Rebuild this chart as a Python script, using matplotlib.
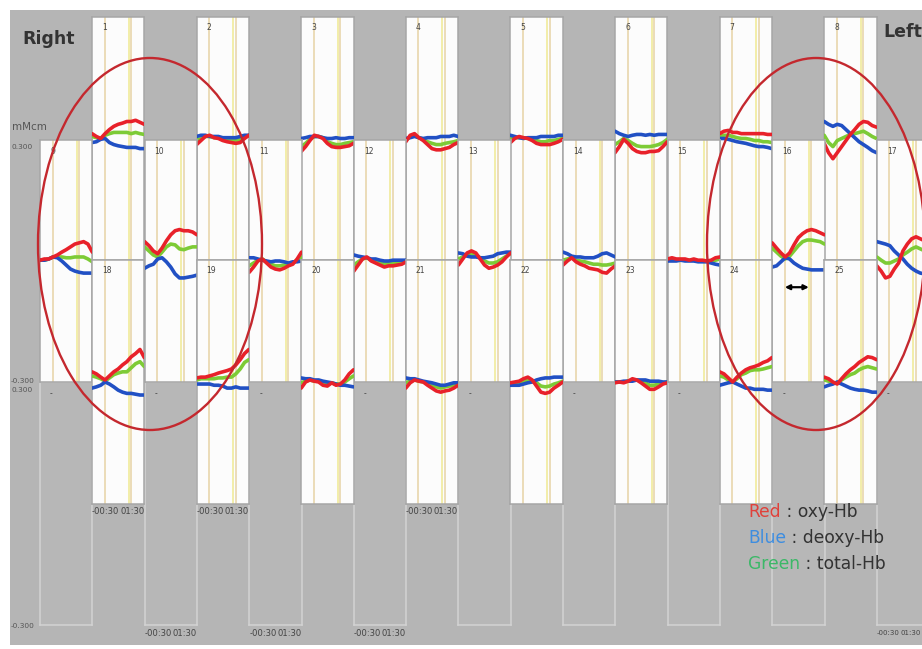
import matplotlib
matplotlib.use("Agg")
import matplotlib.pyplot as plt
from matplotlib.patches import Rectangle, Ellipse
import numpy as np

# ---------------- data: Hb change, in µM·cm (1e-3 mM·cm) ----------------
time_s = [-30, -20, -10, 0, 10, 20, 30, 40, 50, 60, 70, 80, 90]

ch1_oxy = [12, 5, 0, 12, 22, 30, 35, 38, 42, 42, 45, 40, 35]
ch1_deoxy = [-10, -8, -2, 0, -10, -15, -18, -20, -22, -22, -22, -25, -25]
ch1_total = [5, 2, 0, 8, 12, 15, 15, 15, 15, 12, 15, 12, 10]

ch2_oxy = [-15, -5, 5, 8, 2, 0, -5, -8, -10, -12, -10, 0, 8]
ch2_deoxy = [5, 8, 8, 5, 5, 5, 2, 2, 2, 2, 5, 8, 8]
ch2_total = [-5, 0, 5, 5, 2, 2, 0, -2, -2, -5, -2, 2, 8]

ch3_oxy = [-32, -20, -5, 8, 5, 0, -12, -20, -22, -22, -20, -18, -12]
ch3_deoxy = [0, 2, 5, 5, 5, 2, 0, 0, 2, 0, 0, 2, 2]
ch3_total = [-20, -12, -2, 5, 5, 2, -8, -12, -15, -15, -12, -10, -8]

ch4_oxy = [-8, 8, 12, 2, -5, -15, -25, -28, -28, -25, -22, -15, -10]
ch4_deoxy = [0, 2, 5, 2, 0, 2, 2, 2, 5, 5, 5, 8, 5]
ch4_total = [-5, 5, 8, 2, -2, -8, -12, -15, -15, -12, -10, -8, -5]

ch5_oxy = [-10, 0, 5, 2, 0, -5, -12, -15, -15, -15, -12, -8, -2]
ch5_deoxy = [8, 5, 2, 0, 2, 2, 2, 5, 5, 5, 5, 8, 8]
ch5_total = [0, 2, 2, 2, 0, -2, -5, -8, -8, -5, -5, -2, 0]

ch6_oxy = [-35, -20, -2, -12, -25, -32, -35, -35, -32, -32, -30, -20, -8]
ch6_deoxy = [18, 12, 8, 5, 8, 10, 10, 8, 10, 8, 10, 10, 10]
ch6_total = [-15, -8, 0, -5, -12, -18, -20, -20, -20, -18, -15, -10, -2]

ch7_oxy = [12, 18, 20, 15, 15, 12, 12, 12, 12, 12, 12, 10, 10]
ch7_deoxy = [0, 0, -2, -5, -8, -10, -12, -15, -18, -20, -20, -22, -25]
ch7_total = [8, 8, 8, 5, 2, 0, 0, -2, -5, -5, -8, -8, -10]

ch8_oxy = [-12, -35, -50, -35, -20, -5, 10, 22, 35, 42, 40, 32, 28]
ch8_deoxy = [42, 35, 30, 35, 32, 22, 12, 2, -8, -15, -22, -30, -35]
ch8_total = [8, -10, -20, -5, 0, 5, 10, 12, 15, 18, 12, 5, 0]

ch9_oxy = [2, 5, 5, 10, 15, 22, 28, 35, 42, 45, 48, 42, 22]
ch9_deoxy = [2, 2, 5, 10, 8, 0, -10, -20, -25, -28, -30, -30, -30]
ch9_total = [2, 2, 5, 10, 10, 10, 8, 8, 10, 10, 10, 5, -2]

ch10_oxy = [48, 38, 25, 18, 32, 50, 65, 75, 78, 75, 75, 72, 65]
ch10_deoxy = [-18, -12, -8, 5, 8, -2, -15, -32, -42, -42, -40, -38, -35]
ch10_total = [35, 25, 15, 10, 22, 35, 42, 40, 30, 28, 32, 35, 35]

ch11_oxy = [-28, -15, 0, 5, -5, -15, -20, -22, -18, -12, -8, 5, 22]
ch11_deoxy = [8, 8, 5, 2, 0, -2, 0, 0, -2, -5, -2, -2, 0]
ch11_total = [-12, -5, 2, 5, -2, -8, -12, -12, -10, -8, -5, 2, 10]

ch12_oxy = [-25, -10, 5, 10, 0, -5, -10, -15, -12, -12, -10, -8, -2]
ch12_deoxy = [15, 12, 10, 8, 5, 5, 2, 0, 0, 2, 2, 2, 2]
ch12_total = [-10, -2, 5, 8, 2, 0, -2, -8, -5, -5, -5, -2, 0]

ch13_oxy = [-10, 5, 20, 25, 20, 5, -10, -18, -15, -10, -2, 10, 20]
ch13_deoxy = [20, 18, 12, 10, 10, 8, 8, 10, 12, 18, 20, 22, 22]
ch13_total = [5, 10, 15, 18, 15, 8, 0, -5, -5, -2, 5, 12, 20]

ch14_oxy = [-10, 0, 8, -2, -8, -12, -18, -20, -22, -28, -30, -20, -12]
ch14_deoxy = [22, 18, 12, 10, 10, 8, 8, 8, 12, 18, 20, 15, 10]
ch14_total = [2, 5, 8, 2, 0, -2, -5, -8, -8, -10, -10, -8, -5]

ch15_oxy = [5, 8, 5, 5, 5, 2, 5, 2, 2, 0, 2, 8, 10]
ch15_deoxy = [0, 0, 0, 2, 0, 0, 0, -2, -2, -2, -5, -8, -10]
ch15_total = [2, 2, 2, 2, 2, 2, 2, 0, 0, 0, 0, 2, 5]

ch16_oxy = [45, 32, 20, 10, 20, 40, 58, 68, 75, 78, 75, 70, 65]
ch16_deoxy = [-15, -12, -2, 8, 5, -5, -12, -18, -20, -22, -22, -22, -22]
ch16_total = [32, 22, 12, 5, 12, 25, 38, 48, 52, 52, 50, 48, 42]

ch17_oxy = [-12, -25, -42, -38, -20, -5, 25, 42, 55, 60, 55, 50, 45]
ch17_deoxy = [48, 45, 42, 38, 25, 15, 5, -8, -18, -25, -30, -32, -35]
ch17_total = [10, 2, -5, -5, 0, 5, 15, 22, 30, 35, 30, 25, 20]

ch18_oxy = [25, 20, 12, 5, 15, 25, 32, 42, 50, 62, 70, 80, 60]
ch18_deoxy = [-15, -12, -8, 0, -5, -12, -20, -25, -28, -28, -30, -32, -32]
ch18_total = [15, 12, 8, 2, 10, 18, 22, 25, 25, 35, 45, 50, 38]

ch19_oxy = [10, 12, 12, 15, 18, 22, 25, 28, 32, 42, 55, 70, 80]
ch19_deoxy = [-5, -5, -5, -5, -8, -8, -10, -15, -15, -12, -15, -15, -15]
ch19_total = [5, 8, 8, 8, 8, 10, 10, 12, 12, 20, 32, 48, 55]

ch20_oxy = [-15, 0, 5, 2, 0, -8, -10, -2, -8, -5, 5, 20, 30]
ch20_deoxy = [10, 8, 8, 5, 5, 2, 0, -2, -5, -8, -8, -10, -12]
ch20_total = [-2, 2, 5, 2, 2, -2, -5, -2, -5, -5, 0, 8, 15]

ch21_oxy = [-15, -2, 5, 2, 0, -8, -15, -22, -25, -22, -20, -15, -8]
ch21_deoxy = [10, 8, 8, 5, 2, 0, -2, -5, -8, -8, -5, -2, -2]
ch21_total = [-2, 2, 5, 2, 0, -2, -8, -12, -15, -12, -10, -8, -5]

ch22_oxy = [-2, 0, 2, 8, 12, 5, -10, -25, -28, -25, -15, -8, 0]
ch22_deoxy = [-8, -8, -8, -5, -2, 0, 5, 8, 10, 10, 12, 12, 12]
ch22_total = [-5, -5, -2, 2, 5, 2, -2, -10, -12, -10, -5, -2, 2]

ch23_oxy = [-2, 0, -2, 2, 8, 5, -2, -10, -18, -18, -12, -5, -2]
ch23_deoxy = [0, 0, 2, 2, 2, 5, 5, 5, 2, 2, 2, 0, 0]
ch23_total = [0, 0, 0, 2, 5, 5, 2, -2, -8, -8, -5, -2, 0]

ch24_oxy = [25, 20, 10, 0, 12, 22, 30, 35, 38, 42, 48, 52, 60]
ch24_deoxy = [-8, -5, -2, 0, -5, -10, -15, -15, -18, -18, -18, -20, -20]
ch24_total = [15, 12, 5, 0, 8, 18, 22, 28, 30, 30, 32, 35, 38]

ch25_oxy = [12, 8, 0, -5, 8, 20, 30, 38, 48, 55, 62, 60, 55]
ch25_deoxy = [-12, -8, -5, 0, -5, -10, -15, -18, -20, -20, -22, -25, -25]
ch25_total = [5, 2, -2, -2, 5, 12, 18, 22, 30, 35, 38, 35, 32]

row_a_channels = [1, 2, 3, 4, 5, 6, 7, 8]
row_b_channels = [9, 10, 11, 12, 13, 14, 15, 16, 17]
row_c_channels = [18, 19, 20, 21, 22, 23, 24, 25]
y_range = (-0.3, 0.3)          # mM·cm
x_range = (-30, 90)            # s
marker_times = [-1, 54, 60]    # stimulus marks
marker_colors = ["#ead9b2", "#f1eca2", "#ead9b2"]
time_labels = ["-00:30", "01:30"]
xlabel_cols_mid = [0, 1, 3]
xlabel_cols_bottom = [1, 2, 3, 8]
y_labels = ["0.300", "-0.300", "0.300", "-0.300"]
unit_label = "mMcm"
legend_items = [("Red", "#e0413a", "oxy-Hb"), ("Blue", "#3d8de0", "deoxy-Hb"),
                ("Green", "#3cb868", "total-Hb")]

g = globals()
channels = {c: (g[f"ch{c}_oxy"], g[f"ch{c}_deoxy"], g[f"ch{c}_total"]) for c in range(1, 26)}

OXY_C, DEOXY_C, TOTAL_C = "#e8212a", "#2150c4", "#7dcb36"

# ---------------- layout (pixels) ----------------
W, H = 922, 649
fig = plt.figure(figsize=(W / 100, H / 100), dpi=100)
fig.patch.set_facecolor("white")


def fbox(x0, y0, x1, y1):
    return [x0 / W, 1 - y1 / H, (x1 - x0) / W, (y1 - y0) / H]


bg = fig.add_axes([0, 0, 1, 1], zorder=0)
bg.set_xlim(0, W)
bg.set_ylim(H, 0)
bg.axis("off")
bg.add_patch(Rectangle((10, 10), W - 10, 635, color="#b5b5b5", lw=0))

PW = 52.3
STEP = 104.6
COL_A0, COL_B0 = 92, 40
ROW_A = (17, 260)
ROW_B = (140, 382)
ROW_C = (260, 504)
ROW_G = (382, 625)
tarr = np.array(time_s)


def style_panel(ax, face, edge):
    ax.set_facecolor(face)
    ax.set_xlim(*x_range)
    ax.set_ylim(*y_range)
    ax.set_xticks([])
    ax.set_yticks([])
    for s in ax.spines.values():
        s.set_color(edge)
        s.set_linewidth(1.1)


def data_panel(x0, rows, ch):
    ax = fig.add_axes(fbox(x0, rows[0], x0 + PW, rows[1]), zorder=2)
    style_panel(ax, "#fcfcfc", "#a6a6a6")
    for mt, mc in zip(marker_times, marker_colors):
        ax.axvline(mt, color=mc, lw=1.3, zorder=1)
    oxy, deoxy, total = channels[ch]
    kw = dict(lw=2.6, solid_joinstyle="round", solid_capstyle="round")
    ax.plot(tarr, np.array(total) / 1000, color=TOTAL_C, zorder=3, **kw)
    ax.plot(tarr, np.array(deoxy) / 1000, color=DEOXY_C, zorder=4, **kw)
    ax.plot(tarr, np.array(oxy) / 1000, color=OXY_C, zorder=5, **kw)
    ax.text(10 / PW, 1 - 11 / (rows[1] - rows[0]), str(ch), transform=ax.transAxes,
            fontsize=5.5, color="#444444", ha="left", va="center")
    return ax


panels = {}
for i, ch in enumerate(row_a_channels):
    panels[ch] = data_panel(COL_A0 + STEP * i, ROW_A, ch)
for i, ch in enumerate(row_b_channels):
    panels[ch] = data_panel(COL_B0 + STEP * i, ROW_B, ch)
for i, ch in enumerate(row_c_channels):
    panels[ch] = data_panel(COL_A0 + STEP * i, ROW_C, ch)

# empty (disabled) channels under row B
for i in range(len(row_b_channels)):
    x0 = COL_B0 + STEP * i
    ax = fig.add_axes(fbox(x0, ROW_G[0], x0 + PW, ROW_G[1]), zorder=1)
    style_panel(ax, "#b7b7b7", "#d3d3d3")
    ax.text(10 / PW, 1 - 12 / (ROW_G[1] - ROW_G[0]), "-", transform=ax.transAxes,
            fontsize=5.5, color="#444444", ha="left", va="center")

# stimulus-duration arrow in channel 16
panels[16].annotate("", xy=(54, -0.065), xytext=(-1, -0.065),
                    arrowprops=dict(arrowstyle="<|-|>", color="black", lw=1.6,
                                    mutation_scale=7, shrinkA=0, shrinkB=0), zorder=6)

# ---------------- overlay ----------------
ov = fig.add_axes([0, 0, 1, 1], zorder=10)
ov.set_xlim(0, W)
ov.set_ylim(H, 0)
ov.axis("off")
ov.patch.set_alpha(0)


def time_axis_labels(x0, yy):
    x1 = min(x0 + PW, W - 1)
    fs = 6.1 if x1 >= x0 + PW else 5.0
    ov.text(x0, yy, time_labels[0], fontsize=fs, color="#444444", ha="left", va="center")
    ov.text(x1, yy, time_labels[1], fontsize=fs, color="#444444", ha="right", va="center")


for i in xlabel_cols_mid:
    time_axis_labels(COL_A0 + STEP * i, 512)
for i in xlabel_cols_bottom:
    time_axis_labels(COL_B0 + STEP * i, 633)

ov.text(12, 127, unit_label, fontsize=7.5, color="#555555", ha="left", va="center")
for txt, yy in zip(y_labels, [147, 381, 390, 626]):
    ov.text(11, yy, txt, fontsize=5.3, color="#555555", ha="left", va="center")

ov.text(22, 39, "Right", fontsize=12.5, fontweight="bold", color="#333333",
        ha="left", va="center")
ov.text(883, 32, "Left", fontsize=12.5, fontweight="bold", color="#333333",
        ha="left", va="center")

ov.add_patch(Ellipse((150, 244), 224, 372, fill=False, ec="#c4282e", lw=1.7))
ov.add_patch(Ellipse((816, 244), 218, 372, fill=False, ec="#c4282e", lw=1.7))

renderer = fig.canvas.get_renderer()
for (word, col, rest), yy in zip(legend_items, [512, 538, 564]):
    t = ov.text(748, yy, word, fontsize=12.3, color=col, ha="left", va="center")
    w = t.get_window_extent(renderer).width
    ov.text(748 + w, yy, " : " + rest, fontsize=12.3, color="#333333",
            ha="left", va="center")

fig.savefig("out.png", dpi=100, facecolor="white")
